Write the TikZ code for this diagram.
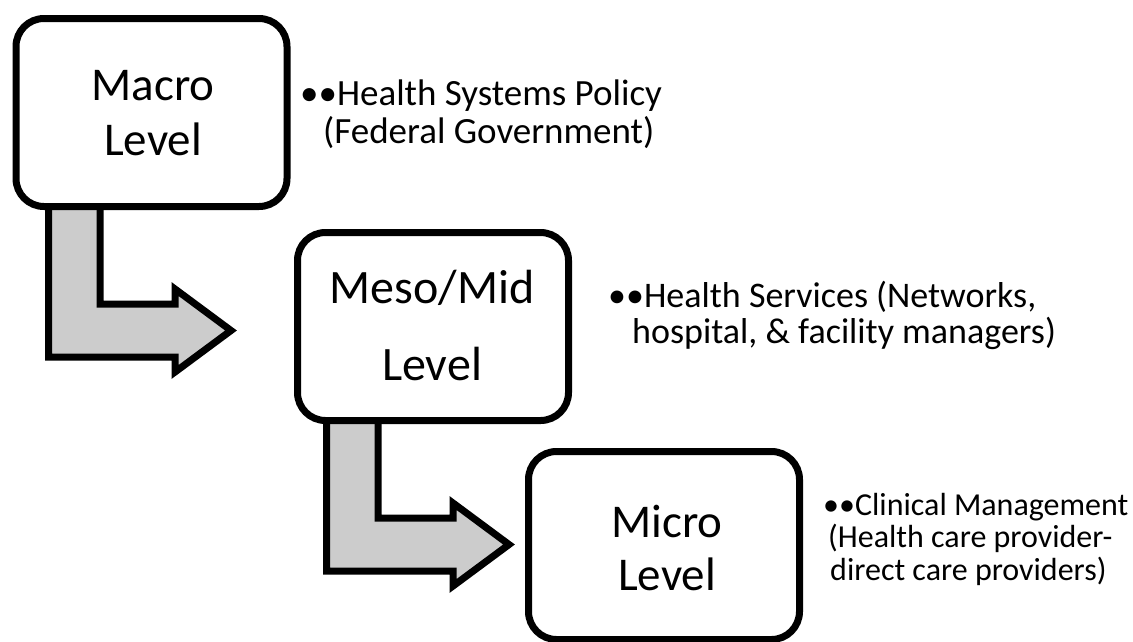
\documentclass[tikz,border=0pt]{standalone}
\usepackage{fontspec}
\setmainfont{Carlito}
\usetikzlibrary{shadows}
\definecolor{arrowgray}{RGB}{204,204,204}
\begin{document}
\begin{tikzpicture}[x=1pt,y=-1pt,
  softshadow/.style={drop shadow={shadow xshift=2pt,shadow yshift=-3pt,opacity=0.18,fill=black}},
  levelbox/.style={draw=black,line width=7pt,fill=white,rounded corners=28pt,
    minimum width=271pt,minimum height=188pt,inner sep=0pt,softshadow},
  bendarrow/.style={draw=black,line width=7pt,fill=arrowgray,line join=miter,softshadow},
  boxtext/.style={anchor=base,inner sep=0pt,font=\fontsize{47}{50}\selectfont},
  sidetext/.style={anchor=base west,inner sep=0pt},
]
\useasboundingbox (0,0) rectangle (1133,641);

% bent block arrows
\draw[bendarrow] (48.5,200) -- (48.5,357) -- (175,357) -- (175,372) -- (231,330.5)
  -- (175,289) -- (175,304) -- (100,304) -- (100,200) -- cycle;
\begin{scope}[shift={(278,214)}]
\draw[bendarrow] (48.5,200) -- (48.5,357) -- (175,357) -- (175,372) -- (231,330.5)
  -- (175,289) -- (175,304) -- (100,304) -- (100,200) -- cycle;
\end{scope}

% level boxes
\node[levelbox] (macro) at (151.5,112.5) {};
\node[levelbox] (meso) at (433,326.5) {};
\node[levelbox] (micro) at (664,545.5) {};

\node[boxtext] (macro1) at (153,100) {Macro};
\node[boxtext] (macro2) at (153,155) {Level};
\node[boxtext,font=\fontsize{48}{50}\selectfont] (meso1) at (432,303) {Meso/Mid};
\node[boxtext,font=\fontsize{48}{50}\selectfont] (meso2) at (432,380) {Level};
\node[boxtext] (micro1) at (667,537) {Micro};
\node[boxtext] (micro2) at (667,590) {Level};

% side descriptions
\node[sidetext,font=\fontsize{37}{37}\selectfont] (macrodesc) at (300,105)
  {\begin{tabular}[t]{@{}l@{}}••Health Systems Policy\\\hspace*{23pt}(Federal Government)\end{tabular}};
\node[sidetext,font=\fontsize{36}{35}\selectfont] (mesodesc) at (608,307)
  {\begin{tabular}[t]{@{}l@{}}••Health Services (Networks,\\\hspace*{24pt}hospital, \& facility managers)\end{tabular}};
\node[sidetext,font=\fontsize{32}{31}\selectfont] (microdesc) at (823,515)
  {\begin{tabular}[t]{@{}l@{}}••Clinical Management\\\hspace*{5pt}(Health care provider-\\\hspace*{7pt}direct care providers)\end{tabular}};
\end{tikzpicture}
\end{document}
